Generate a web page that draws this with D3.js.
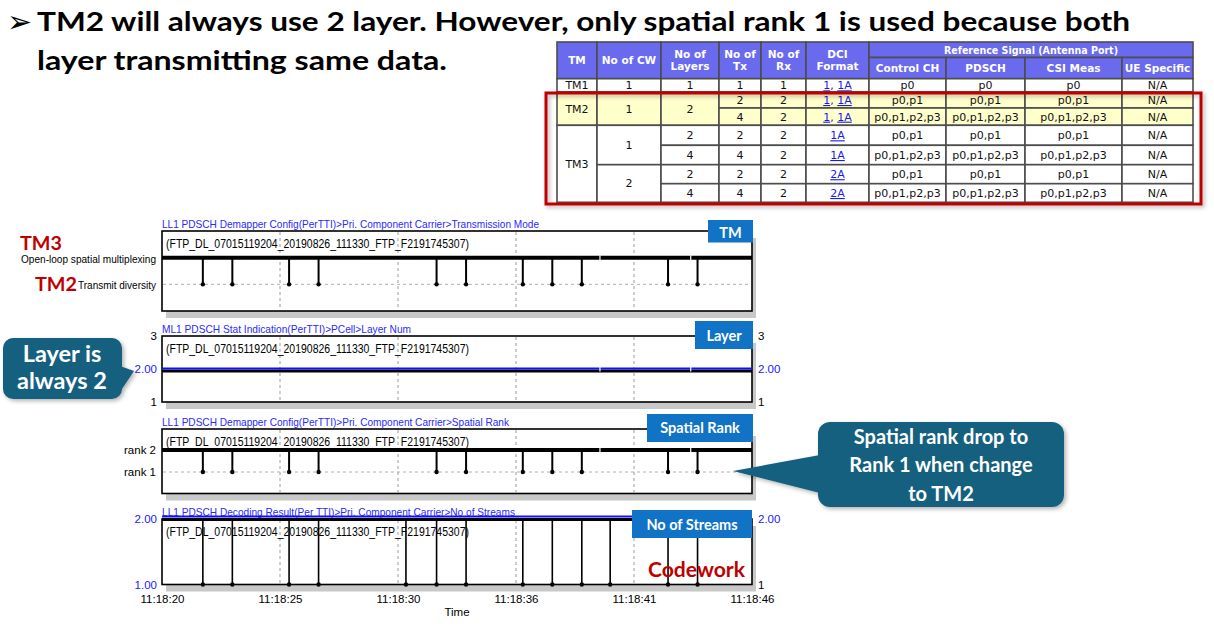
<!DOCTYPE html>
<html><head><meta charset="utf-8">
<script src="https://cdn.jsdelivr.net/npm/d3@7"></script>
<style>body{margin:0;background:#fff;} svg{display:block}</style>
</head><body>
<svg id="c" width="1214" height="639"></svg>
<script>
// ---------------- data ----------------
const axisStartSec = 20, axisEndSec = 46;                 // seconds after 11:18:00
const tickSeconds = [20, 25.2, 30.4, 35.6, 40.8, 46];
const tmDropTimes = [21.8, 23.1, 25.6, 26.9, 32.1, 33.4, 35.9, 37.2, 38.5, 42.3, 43.6];
const streamDropTimes = [21.8, 23.1, 25.6, 26.9, 30.75, 32.1, 33.4, 35.9, 37.2, 38.5, 39.75, 42.3, 43.6];
const sampleGapTimes = [39.3, 43.3];
const tmLevels = [3, 2];
const tmLevelLabels = ["Open-loop spatial multiplexing", "Transmit diversity"];
const tmNamesForLevels = ["TM3", "TM2"];
const layerValue = 2;
const layerTicks = [3, 2, 1];
const rankLevels = [2, 1];
const rankLabels = ["rank 2", "rank 1"];
const streamLevels = [2, 1];
const panelTitles = [
  "LL1 PDSCH Demapper Config(PerTTI)>Pri. Component Carrier>Transmission Mode",
  "ML1 PDSCH Stat Indication(PerTTI)>PCell>Layer Num",
  "LL1 PDSCH Demapper Config(PerTTI)>Pri. Component Carrier>Spatial Rank",
  "LL1 PDSCH Decoding Result(Per TTI)>Pri. Component Carrier>No of Streams"];
const panelBadges = ["TM", "Layer", "Spatial Rank", "No of Streams"];
const fileLabel = "(FTP_DL_07015119204_20190826_111330_FTP_F2191745307)";

// table data
const headerCols = [["TM"], ["No of CW"], ["No of", "Layers"], ["No of", "Tx"], ["No of", "Rx"], ["DCI", "Format"]];
const refSignalHeader = "Reference Signal (Antenna Port)";
const refSubHeaders = ["Control CH", "PDSCH", "CSI Meas", "UE Specific"];
const tmGroups = [["TM1", 1], ["TM2", 2], ["TM3", 4]];
const cwGroups = [["1", 1], ["1", 2], ["1", 2], ["2", 2]];
const layerGroups = [["1", 1], ["2", 2], ["2", 1], ["4", 1], ["2", 1], ["4", 1]];
const txValues = ["1", "2", "4", "2", "4", "2", "4"];
const rxValues = ["1", "2", "2", "2", "2", "2", "2"];
const dciValues = [["1", "1A"], ["1", "1A"], ["1", "1A"], ["1A"], ["1A"], ["2A"], ["2A"]];
const portValues = ["p0", "p0,p1", "p0,p1,p2,p3", "p0,p1", "p0,p1,p2,p3", "p0,p1", "p0,p1,p2,p3"];
const ueValues = ["N/A", "N/A", "N/A", "N/A", "N/A", "N/A", "N/A"];
const highlightRows = [1, 2];

// ---------------- drawing ----------------
const svg = d3.select("#c");
const defs = svg.append("defs");
const f = defs.append("filter").attr("id", "sh").attr("x", "-20%").attr("y", "-20%").attr("width", "140%").attr("height", "140%");
f.append("feDropShadow").attr("dx", 2).attr("dy", 2).attr("stdDeviation", 2).attr("flood-color", "#000").attr("flood-opacity", 0.3);

const SANS = "'Liberation Sans', Arial, sans-serif";
const CAL = "Lato, 'Open Sans', sans-serif";
const TAH = "'DejaVu Sans', Verdana, sans-serif";

// Slide title
svg.append("text").attr("x", 7).attr("y", 32).text("➢")
  .attr("font-family", "'DejaVu Sans'").attr("font-size", 30).attr("fill", "#000");
svg.append("text").attr("x", 37).attr("y", 31)
  .text("TM2 will always use 2 layer. However, only spatial rank 1 is used because both")
  .attr("font-family", CAL).attr("font-weight", 700).attr("font-size", 27)
  .attr("textLength", 1093).attr("lengthAdjust", "spacingAndGlyphs");
svg.append("text").attr("x", 37).attr("y", 70)
  .text("layer transmitting same data.")
  .attr("font-family", CAL).attr("font-weight", 700).attr("font-size", 27)
  .attr("textLength", 410).attr("lengthAdjust", "spacingAndGlyphs");

// ---------------- table ----------------
const cols = [557, 597, 661, 719, 761, 806, 869, 946, 1025, 1122, 1193];
const hTop = 42, hMid = 57.5, hBot = 78.7;
const rowEdges = [78.7, 92, 108, 125.3, 145.3, 164.7, 183.7, 202.3];
const tbl = svg.append("g");
const HDR = "#6a6aef";
function cell(x0, x1, y0, y1, fill) {
  tbl.append("rect").attr("x", x0).attr("y", y0).attr("width", x1 - x0).attr("height", y1 - y0)
    .attr("fill", fill).attr("stroke", "#4d4d4d").attr("stroke-width", 1.6);
}
function ctext(cx, cy, lines, opts) {
  const t = tbl.append("text").attr("x", cx).attr("text-anchor", "middle")
    .attr("font-family", TAH).attr("font-size", opts.size).attr("font-weight", opts.bold ? 700 : 400)
    .attr("fill", opts.color);
  const lh = opts.size * 1.15;
  const y0 = cy - (lines.length - 1) * lh / 2 + opts.size * 0.36;
  lines.forEach((l, i) => t.append("tspan").attr("x", cx).attr("y", y0 + i * lh).text(l));
  if (opts.fit) t.attr("textLength", opts.fit).attr("lengthAdjust", "spacingAndGlyphs");
}
const HS = 10.5, DS = 11;
headerCols.forEach((h, i) => {
  cell(cols[i], cols[i + 1], hTop, hBot, HDR);
  ctext((cols[i] + cols[i + 1]) / 2, (hTop + hBot) / 2, h, {size: HS, bold: true, color: "#fff"});
});
cell(cols[6], cols[10], hTop, hMid, HDR);
ctext((cols[6] + cols[10]) / 2, (hTop + hMid) / 2, [refSignalHeader], {size: HS, bold: true, color: "#fff", fit: 174});
refSubHeaders.forEach((h, i) => {
  cell(cols[6 + i], cols[7 + i], hMid, hBot, HDR);
  ctext((cols[6 + i] + cols[7 + i]) / 2, (hMid + hBot) / 2, [h], {size: HS, bold: true, color: "#fff"});
});
const rowFill = r => highlightRows.includes(r) ? "#ffffcc" : "#fff";
function groups(col, arr) {
  let r = 0;
  arr.forEach(([v, n]) => {
    const y0 = rowEdges[r], y1 = rowEdges[r + n];
    cell(cols[col], cols[col + 1], y0, y1, rowFill(r));
    ctext((cols[col] + cols[col + 1]) / 2, (y0 + y1) / 2, [v], {size: DS, color: "#111"});
    r += n;
  });
}
groups(0, tmGroups); groups(1, cwGroups); groups(2, layerGroups);
function perRow(col, arr) {
  arr.forEach((v, r) => {
    const y0 = rowEdges[r], y1 = rowEdges[r + 1];
    cell(cols[col], cols[col + 1], y0, y1, rowFill(r));
    ctext((cols[col] + cols[col + 1]) / 2, (y0 + y1) / 2, [v], {size: DS, color: "#111"});
  });
}
perRow(3, txValues); perRow(4, rxValues);
dciValues.forEach((v, r) => {
  const y0 = rowEdges[r], y1 = rowEdges[r + 1];
  cell(cols[5], cols[6], y0, y1, rowFill(r));
  const t = tbl.append("text").attr("x", (cols[5] + cols[6]) / 2).attr("y", (y0 + y1) / 2 + 4)
    .attr("text-anchor", "middle").attr("font-family", TAH).attr("font-size", DS).attr("fill", "#1a1aee");
  v.forEach((s, i) => {
    if (i > 0) t.append("tspan").text(", ");
    t.append("tspan").attr("text-decoration", "underline").text(s);
  });
});
perRow(6, portValues); perRow(7, portValues); perRow(8, portValues); perRow(9, ueValues);
// red highlight box
svg.append("rect").attr("x", 546).attr("y", 93).attr("width", 655).attr("height", 111)
  .attr("fill", "none").attr("stroke", "#c00000").attr("stroke-width", 3).attr("filter", "url(#sh)");

// ---------------- panels ----------------
const base = new Date(2019, 7, 26, 11, 18, 0);
const sec = s => new Date(base.getTime() + s * 1000);
const x = d3.scaleTime().domain([sec(axisStartSec), sec(axisEndSec)]).range([162, 752]);
const X0 = x.range()[0], X1 = x.range()[1];
const fmtTime = d => d3.timeFormat("%H:%M:%S")(new Date(Math.round(d.getTime() / 1000) * 1000));

const panels = [
  {top: 231, bottom: 311, domain: [1, 4], rng: [311, 231], titleLen: 377},
  {top: 336, bottom: 402, domain: [1, 3], rng: [402, 336], titleLen: 249},
  {top: 429, bottom: 493.5, domain: [0, 3], rng: [494, 428], titleLen: 347},
  {top: 519, bottom: 584.5, domain: [1, 2], rng: [584.5, 519], titleLen: 353}
];
const badges = [
  {x: 708, y: 220, w: 45, h: 22.5, ty: 238},
  {x: 695, y: 321, w: 58, h: 28, ty: 341},
  {x: 647, y: 414, w: 106, h: 28, ty: 433},
  {x: 632, y: 510, w: 120, h: 28, ty: 529.5}
];

panels.forEach((p, i) => {
  p.y = d3.scaleLinear().domain(p.domain).range(p.rng);
  const g = svg.append("g");
  p.g = g;
  g.append("rect").attr("x", X0 + 4).attr("y", p.top + 7).attr("width", X1 - X0).attr("height", p.bottom - p.top)
    .attr("fill", "#c8c8c8");
  g.append("rect").attr("x", X0).attr("y", p.top).attr("width", X1 - X0).attr("height", p.bottom - p.top)
    .attr("fill", "#fff").attr("stroke", "#000").attr("stroke-width", 1.6);
  g.selectAll(".vg").data(tickSeconds.slice(1, -1)).join("line")
    .attr("x1", d => x(sec(d))).attr("x2", d => x(sec(d)))
    .attr("y1", p.top + 1).attr("y2", p.bottom - 1)
    .attr("stroke", "#9a9a9a").attr("stroke-width", 1).attr("stroke-dasharray", "3,3");
  g.append("text").attr("x", X0).attr("y", p.top - 3).text(panelTitles[i])
    .attr("font-family", SANS).attr("font-size", 11).attr("fill", "#2a2aff")
    .attr("textLength", p.titleLen).attr("lengthAdjust", "spacingAndGlyphs");
  g.append("text").attr("x", X0 + 4).attr("y", p.top + 16.5).text(fileLabel)
    .attr("font-family", SANS).attr("font-size", 12).attr("fill", "#000")
    .attr("textLength", 303).attr("lengthAdjust", "spacingAndGlyphs");
});

function styleAxis(sel) {
  sel.select(".domain").remove();
  sel.selectAll(".tick line").remove();
  sel.selectAll("text").attr("font-family", SANS).attr("font-size", 11.5).attr("fill", "#000");
}
function hDash(p, v) {
  p.g.append("line").attr("x1", X0 + 1).attr("x2", X1 - 1).attr("y1", p.y(v)).attr("y2", p.y(v))
    .attr("stroke", "#b0b0b0").attr("stroke-width", 1).attr("stroke-dasharray", "3,3");
}
function thick(p, v, w, color, off) {
  p.g.append("line").attr("x1", X0).attr("x2", X1).attr("y1", p.y(v) + off).attr("y2", p.y(v) + off)
    .attr("stroke", color).attr("stroke-width", w);
}
function spikes(p, times, hi, lo, w) {
  p.g.selectAll(null).data(times).join("line")
    .attr("x1", d => x(sec(d))).attr("x2", d => x(sec(d)))
    .attr("y1", p.y(hi)).attr("y2", p.y(lo)).attr("stroke", "#000").attr("stroke-width", w);
  p.g.selectAll(null).data(times).join("circle")
    .attr("cx", d => x(sec(d))).attr("cy", p.y(lo)).attr("r", 2.2).attr("fill", "#000");
}
function gaps(p, v, h) {
  p.g.selectAll(null).data(sampleGapTimes).join("line")
    .attr("x1", d => x(sec(d))).attr("x2", d => x(sec(d)))
    .attr("y1", p.y(v) - h).attr("y2", p.y(v) + h).attr("stroke", "#fff").attr("stroke-width", 1.2);
}

// Panel 1: Transmission mode
{
  const p = panels[0];
  hDash(p, tmLevels[1]);
  thick(p, tmLevels[0], 4, "#000", 0);
  gaps(p, tmLevels[0], 2.5);
  spikes(p, tmDropTimes, tmLevels[0], tmLevels[1], 2);
  const ax = p.g.append("g").attr("transform", `translate(${X0},0)`)
    .call(d3.axisLeft(p.y).tickValues(tmLevels).tickSize(0).tickPadding(6)
      .tickFormat((d, i) => tmLevelLabels[i]));
  styleAxis(ax);
  ax.selectAll("text").attr("font-size", 10).attr("dy", "0.45em");
  ax.selectAll("text").filter((d, i) => i === 0).attr("textLength", 135).attr("lengthAdjust", "spacingAndGlyphs");
  ax.selectAll("text").filter((d, i) => i === 1).attr("textLength", 78).attr("lengthAdjust", "spacingAndGlyphs");
  svg.append("text").attr("x", 20).attr("y", 249.5).text(tmNamesForLevels[0])
    .attr("font-family", CAL).attr("font-weight", 700).attr("font-size", 19).attr("fill", "#c00000")
    .attr("textLength", 42).attr("lengthAdjust", "spacingAndGlyphs");
  svg.append("text").attr("x", 35).attr("y", 290.5).text(tmNamesForLevels[1])
    .attr("font-family", CAL).attr("font-weight", 700).attr("font-size", 19).attr("fill", "#c00000")
    .attr("textLength", 42).attr("lengthAdjust", "spacingAndGlyphs");
}

// Panel 2: Layer num
{
  const p = panels[1];
  thick(p, layerValue, 3, "#000", 2);
  thick(p, layerValue, 1.8, "#1010ff", -0.5);
  gaps(p, layerValue, 2.5);
  const fmt = d => d === layerValue ? "2.00" : String(d);
  const axL = p.g.append("g").attr("transform", `translate(${X0},0)`)
    .call(d3.axisLeft(p.y).tickValues(layerTicks).tickSize(0).tickPadding(5).tickFormat(fmt));
  const axR = p.g.append("g").attr("transform", `translate(${X1},0)`)
    .call(d3.axisRight(p.y).tickValues(layerTicks).tickSize(0).tickPadding(6).tickFormat(fmt));
  [axL, axR].forEach(a => {
    styleAxis(a);
    a.selectAll("text").filter(d => d === layerValue).attr("fill", "#2020ff");
  });
}

// Panel 3: Spatial rank
{
  const p = panels[2];
  hDash(p, rankLevels[1]);
  thick(p, rankLevels[0], 4, "#000", 0);
  gaps(p, rankLevels[0], 2.5);
  spikes(p, tmDropTimes, rankLevels[0], rankLevels[1], 2);
  const ax = p.g.append("g").attr("transform", `translate(${X0},0)`)
    .call(d3.axisLeft(p.y).tickValues(rankLevels).tickSize(0).tickPadding(6)
      .tickFormat((d, i) => rankLabels[i]));
  styleAxis(ax);
}

// Panel 4: No of streams
{
  const p = panels[3];
  spikes(p, streamDropTimes, streamLevels[0], streamLevels[1], 1.6);
  thick(p, streamLevels[0], 3, "#000", 0.5);
  thick(p, streamLevels[0], 1.8, "#1010ff", -2.5);
  const axL = p.g.append("g").attr("transform", `translate(${X0},0)`)
    .call(d3.axisLeft(p.y).tickValues(streamLevels).tickSize(0).tickPadding(5).tickFormat(d3.format(".2f")));
  styleAxis(axL);
  axL.selectAll("text").attr("fill", "#2020ff");
  const axR = p.g.append("g").attr("transform", `translate(${X1},0)`)
    .call(d3.axisRight(p.y).tickValues(streamLevels).tickSize(0).tickPadding(6)
      .tickFormat(d => d === 2 ? "2.00" : String(d)));
  styleAxis(axR);
  axR.selectAll("text").filter(d => d === 2).attr("fill", "#2020ff");
  const axB = svg.append("g").attr("transform", `translate(0,${p.bottom})`)
    .call(d3.axisBottom(x).tickValues(tickSeconds.map(sec)).tickSize(0).tickPadding(10).tickFormat(fmtTime));
  styleAxis(axB);
  axB.selectAll("text").attr("font-size", 11.5);
  svg.append("text").attr("x", 457).attr("y", 615.5).attr("text-anchor", "middle").text("Time")
    .attr("font-family", SANS).attr("font-size", 11.5).attr("fill", "#000");
  svg.append("text").attr("x", 648).attr("y", 577).text("Codework")
    .attr("font-family", CAL).attr("font-weight", 700).attr("font-size", 20).attr("fill", "#c00000")
    .attr("textLength", 97).attr("lengthAdjust", "spacingAndGlyphs");
}

// badges
badges.forEach((b, i) => {
  svg.append("rect").attr("x", b.x).attr("y", b.y).attr("width", b.w).attr("height", b.h).attr("fill", "#1173c6");
  svg.append("text").attr("x", b.x + b.w / 2).attr("y", b.ty).attr("text-anchor", "middle").text(panelBadges[i])
    .attr("font-family", CAL).attr("font-weight", 700).attr("font-size", 14.5).attr("fill", "#fff");
});

// callouts
const CALL = "#15607f";
function roundRectPath(x0, y0, w, h, r) {
  const p = d3.path();
  p.moveTo(x0 + r, y0); p.lineTo(x0 + w - r, y0); p.arcTo(x0 + w, y0, x0 + w, y0 + r, r);
  p.lineTo(x0 + w, y0 + h - r); p.arcTo(x0 + w, y0 + h, x0 + w - r, y0 + h, r);
  p.lineTo(x0 + r, y0 + h); p.arcTo(x0, y0 + h, x0, y0 + h - r, r);
  p.lineTo(x0, y0 + r); p.arcTo(x0, y0, x0 + r, y0, r); p.closePath();
  return p.toString();
}
const c1 = svg.append("g").attr("filter", "url(#sh)");
c1.append("path").attr("d", roundRectPath(3, 338, 119, 61, 10)).attr("fill", CALL);
c1.append("path").attr("d", "M120,366 L134,371 L120,392 Z").attr("fill", CALL);
[["Layer is", 361.5], ["always 2", 388.5]].forEach(([t, yy]) => {
  svg.append("text").attr("x", 62).attr("y", yy).attr("text-anchor", "middle").text(t)
    .attr("font-family", CAL).attr("font-weight", 700).attr("font-size", 23.5).attr("fill", "#fff");
});
const c2 = svg.append("g").attr("filter", "url(#sh)");
c2.append("path").attr("d", roundRectPath(818, 422, 246, 85, 12)).attr("fill", CALL);
c2.append("path").attr("d", "M820,455 L733,471 L820,493 Z").attr("fill", CALL);
[["Spatial rank drop to", 443.5], ["Rank 1 when change", 472], ["to TM2", 500.5]].forEach(([t, yy]) => {
  svg.append("text").attr("x", 941).attr("y", yy).attr("text-anchor", "middle").text(t)
    .attr("font-family", CAL).attr("font-weight", 700).attr("font-size", 20).attr("fill", "#fff");
});
</script>
</body></html>
